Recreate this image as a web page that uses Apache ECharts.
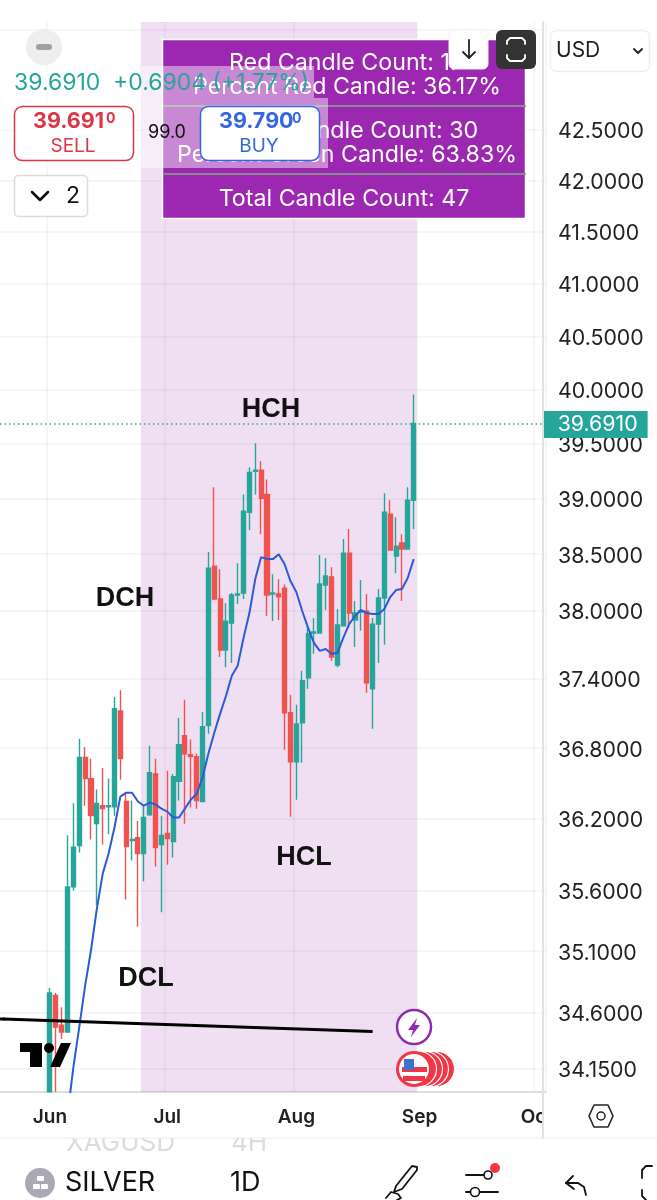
<!DOCTYPE html>
<html>
<head>
<meta charset="utf-8">
<script src="https://cdn.jsdelivr.net/npm/echarts@6/dist/echarts.min.js"></script>
<style>
    html, body { margin: 0; padding: 0; background: #fff; }
    #chart { width: 657px; height: 1200px; }
</style>
</head>
<body>
<div id="chart"></div>
<script>
    // daily silver candles
    var opens = [33.97,34.74,34.50,34.445,35.63,35.975,36.72,36.54,36.16,36.31,36.30,36.30,37.12,36.345,36.017,36.04,35.908,36.234,36.58,35.983,36.076,36.008,36.516,36.907,36.744,36.727,36.345,36.993,38.393,38.10,37.65,37.887,38.136,38.154,38.878,39.25,39.26,39.04,38.145,38.145,38.197,37.104,36.683,37.017,37.408,37.80,37.80,38.225,38.296,37.52,37.863,38.51,37.914,37.985,37.994,37.312,37.878,38.11,38.86,38.483,38.6,38.546,38.987];
    var closes = [34.76,34.485,34.445,35.63,35.96,36.72,36.54,36.226,36.33,36.285,36.31,37.14,36.71,35.967,36.025,35.908,36.21,36.59,35.958,36.06,36.034,36.555,36.83,36.752,36.727,36.353,36.984,38.375,38.10,37.65,37.905,38.136,38.145,38.887,39.241,39.26,39.005,38.136,38.154,38.119,37.104,36.683,37.008,37.382,37.793,37.81,38.234,38.305,37.59,37.87,38.51,37.976,37.976,37.994,37.365,37.878,38.11,38.878,38.537,38.573,38.546,38.987,39.691];
    var lows = [33.97,33.97,34.39,34.445,35.60,35.916,36.31,36.025,35.477,35.983,36.07,36.226,36.53,35.526,35.85,35.30,35.676,36.226,35.80,35.42,35.815,35.875,36.353,36.157,36.294,36.285,36.34,36.924,38.09,37.59,37.50,37.537,38.056,38.10,38.717,39.04,38.68,37.95,37.905,37.914,36.787,36.217,36.361,36.675,37.312,37.617,37.80,38.003,37.555,37.50,37.854,37.845,37.678,37.82,37.278,36.967,37.537,37.696,38.537,38.33,38.083,38.546,38.726];
    var highs = [34.80,34.76,34.645,36.06,36.33,36.88,36.81,36.71,36.447,36.63,36.54,37.24,37.30,36.41,36.353,36.18,36.31,36.82,36.71,36.226,36.606,36.58,37.06,37.217,36.873,36.752,37.112,38.519,39.105,38.366,38.065,38.154,38.42,39.04,39.287,39.508,39.342,39.176,38.32,38.276,38.23,37.26,37.173,37.469,37.863,37.932,38.492,38.465,38.384,38.012,38.636,38.726,38.083,38.27,38.145,37.932,38.19,39.05,38.987,38.832,38.68,39.105,39.96];
    // blue moving average
    var maValues = [null,null,null,33.79,34.165,34.485,34.82,35.108,35.45,35.74,35.908,36.126,36.387,36.42,36.42,36.345,36.31,36.336,36.32,36.285,36.26,36.21,36.21,36.285,36.36,36.41,36.546,36.752,36.93,37.095,37.25,37.425,37.512,37.757,37.976,38.278,38.474,38.456,38.456,38.50,38.41,38.26,38.163,37.994,37.845,37.713,37.643,37.66,37.617,37.625,37.757,37.878,37.95,38.003,37.976,37.967,37.967,38.012,38.118,38.18,38.19,38.29,38.456];

    var lastPrice = 39.691;
    var barCount = 93;
    var firstBar = 8;      // empty days left of the first candle
    var monthTicks = { 8: 'Jun', 28: 'Jul', 50: 'Aug', 71: 'Sep', 91: 'Oct' };
    var priceTicks = [42.5, 42, 41.5, 41, 40.5, 40, 39.5, 39, 38.5, 38, 37.4, 36.8, 36.2, 35.6, 35.1, 34.6, 34.15];
    var gridTicks = [43.5].concat(priceTicks);
    var shadedBars = [24, 70];
    var trendIdx = [0, 63];
    var trendVal = [34.55, 34.45];

    var tableLines = ['Red Candle Count: 17', 'Percent Red Candle: 36.17%', 'Green Candle Count: 30', 'Percent Green Candle: 63.83%', 'Total Candle Count: 47'];

    var TEAL = '#26A69A', RED = '#EF5350';
    var UI = 'Inter, "Noto Sans", sans-serif';

    var categories = [], candles = [], ma = [];
    for (var i = 0; i < barCount; i++) {
        categories.push(monthTicks[i] || '');
        var k = i - firstBar;
        if (k >= 0 && k < opens.length) {
            candles.push([opens[k], closes[k], lows[k], highs[k]]);
            ma.push(maValues[k]);
        } else {
            candles.push(['-', '-', '-', '-']);
            ma.push(null);
        }
    }
    var trend = [[trendIdx[0], trendVal[0]], [trendIdx[1], trendVal[1]]];

    // overlay helpers
    function txt(x, y, s, font, fill, align) {
        return { type: 'text', z: 100, style: { x: x, y: y, text: s, font: font, fill: fill, align: align || 'center', textAlign: align || 'center', verticalAlign: 'middle', textVerticalAlign: 'middle' } };
    }
    function box(x, y, w, h, fill, stroke, r, lw) {
        return { type: 'rect', z: 100, shape: { x: x, y: y, width: w, height: h, r: r || 0 }, style: { fill: fill, stroke: stroke || null, lineWidth: lw || 1 } };
    }
    function seg(x1, y1, x2, y2, color, lw) {
        return { type: 'line', z: 100, shape: { x1: x1, y1: y1, x2: x2, y2: y2 }, style: { stroke: color, lineWidth: lw, lineCap: 'round' } };
    }
    function dot(x, y, r, fill, stroke, lw) {
        return { type: 'circle', z: 100, shape: { cx: x, cy: y, r: r }, style: { fill: fill, stroke: stroke || null, lineWidth: lw || 1 } };
    }
    function pl(points, color, lw) {
        return { type: 'polyline', z: 100, shape: { points: points }, style: { fill: null, stroke: color, lineWidth: lw, lineCap: 'round', lineJoin: 'round' } };
    }
    function pg(points, fill) {
        return { type: 'polygon', z: 100, shape: { points: points }, style: { fill: fill } };
    }

    var overlay = [
        // ghost row cut off by the axis strip
        txt(66, 1143, 'XAGUSD', '26px ' + UI, '#dcdcdc', 'left'),
        txt(231, 1143, '4H', '26px ' + UI, '#dcdcdc', 'left'),
        box(0, 1127, 657, 11, '#fff'),

        // separators
        box(544, 1093, 113, 44, '#fff'),
        seg(543, 22, 543, 1138, '#e2e2e2', 2),
        seg(0, 1138, 657, 1138, '#ececec', 1),

        // stats table
        box(162.5, 39.5, 363, 179, '#9C27B0', '#fff', 0, 1.5),
        seg(164, 106, 525, 106, '#8a8a92', 2),
        seg(164, 174, 525, 174, '#8a8a92', 2),
        txt(346, 63, tableLines[0], '23.2px ' + UI, '#fff'),
        txt(347, 87, tableLines[1], '23.2px ' + UI, '#fff'),
        txt(346, 131, tableLines[2], '23.2px ' + UI, '#fff'),
        txt(347, 155, tableLines[3], '23.2px ' + UI, '#fff'),
        txt(344, 199, tableLines[4], '23.2px ' + UI, '#fff'),

        // washed out strip behind the order buttons
        box(0, 66, 314, 32, 'rgba(255,255,255,0.45)'),
        box(0, 98, 328, 70, 'rgba(255,255,255,0.45)'),

        // top left widgets
        dot(44, 47, 18, '#eeeeee'),
        box(36, 44, 16, 6, '#a0a0a0', null, 3),
        txt(14, 83, '39.6910', '23px ' + UI, TEAL, 'left'),
        txt(113, 83, '+0.6904 (+1.77%)', '23px ' + UI, TEAL, 'left'),
        box(14.5, 106.5, 119, 54, '#fff', '#DC3545', 8, 1.5),
        txt(33, 122, '39.691', 'bold 21.5px ' + UI, '#DC3545', 'left'),
        txt(106, 119, '0', 'bold 14px ' + UI, '#DC3545', 'left'),
        txt(73, 146, 'SELL', '19px ' + UI, '#DC3545'),
        txt(167, 133, '99.0', '18px ' + UI, '#111'),
        box(200.5, 106.5, 119, 54, '#fff', '#3366E0', 8, 1.5),
        txt(219, 122, '39.790', 'bold 21.5px ' + UI, '#3366E0', 'left'),
        txt(292, 119, '0', 'bold 14px ' + UI, '#3366E0', 'left'),
        txt(259, 146, 'BUY', '19px ' + UI, '#3366E0'),
        box(14.5, 175.5, 73, 41, '#fff', '#dcdcdc', 4, 1.5),
        pl([[32, 192], [40, 200], [48, 192]], '#111', 2.5),
        txt(73, 196, '2', '23px ' + UI, '#111'),

        // top right widgets
        box(449, 30, 39, 39, '#fff', '#f0f0f0', 5, 1),
        pl([[469, 40], [469, 58]], '#222', 1.8),
        pl([[463, 52], [469, 58], [475, 52]], '#222', 1.8),
        box(496, 30, 40, 39, '#333', null, 6),
        pl([[507, 44], [507, 41], [510, 38], [522, 38], [525, 41], [525, 44]], '#fff', 1.8),
        pl([[507, 55], [507, 58], [510, 61], [522, 61], [525, 58], [525, 55]], '#fff', 1.8),
        box(550.5, 30.5, 99, 41, '#fff', '#f0f0f0', 6, 1.5),
        txt(556, 51, 'USD', '21px ' + UI, '#222', 'left'),
        pl([[634, 49], [638, 53], [642, 49]], '#222', 1.8),

        // drawn labels on the chart
        txt(271, 410, 'HCH', 'bold 27px "Liberation Sans"', '#111'),
        txt(125, 599, 'DCH', 'bold 27px "Liberation Sans"', '#111'),
        txt(304, 858, 'HCL', 'bold 27px "Liberation Sans"', '#111'),
        txt(146, 979, 'DCL', 'bold 27px "Liberation Sans"', '#111'),

        // the trend line runs off the left edge
        seg(0, 1019, 4, 1019, '#000', 3),

        // tv logo
        pg([[20, 1043], [42, 1043], [42, 1067], [30, 1067], [30, 1052], [20, 1052]], '#000'),
        dot(49, 1048, 5, '#000'),
        pg([[61, 1043], [71, 1043], [60, 1067], [50, 1067]], '#000'),

        // events
        dot(414, 1027, 17, '#fff', '#8E2CB0', 2.5),
        pg([[417, 1018], [408, 1030], [413, 1030], [411, 1037], [420, 1025], [415, 1025]], '#8E2CB0'),
        dot(437, 1069, 17.5, '#F23645', '#fff', 1.2),
        dot(431, 1069, 17.5, '#F23645', '#fff', 1.2),
        dot(425, 1069, 17.5, '#F23645', '#fff', 1.2),
        dot(419, 1069, 17.5, '#F23645', '#fff', 1.2),
        dot(414, 1069, 18, '#F23645'),
        dot(414, 1069, 15, '#fff'),
        box(402, 1067, 25, 5, '#F23645'),
        box(403, 1076, 22, 5, '#F23645'),
        box(404, 1059, 10, 11, '#3F72C8'),

        // bottom strip
        pl([[589, 1116], [594, 1105], [608, 1105], [613, 1116], [608, 1127], [594, 1127], [589, 1116]], '#222', 1.6),
        dot(601, 1116, 4, 'none', '#222', 1.5),
        dot(40, 1183, 15, '#a9a9b5'),
        box(37, 1176, 7, 5, '#fff', null, 1),
        box(33, 1184, 7, 5, '#fff', null, 1),
        box(41, 1184, 7, 5, '#fff', null, 1),
        txt(65, 1183, 'SILVER', '27px ' + UI, '#111', 'left'),
        txt(230, 1183, '1D', '27px ' + UI, '#111', 'left'),
        pl([[396, 1186], [412, 1166], [417, 1167], [417, 1170], [402, 1189], [394, 1192], [396, 1186]], '#111', 1.8),
        pl([[386, 1198], [391, 1192], [398, 1194], [401, 1198], [397, 1200]], '#111', 1.8),
        seg(466, 1175, 484, 1175, '#111', 1.8),
        dot(488, 1175, 4, 'none', '#111', 1.6),
        dot(495, 1168, 5, '#F23645'),
        seg(466, 1192, 470, 1192, '#111', 1.8),
        dot(475, 1192, 4.5, 'none', '#111', 1.6),
        seg(480, 1192, 498, 1192, '#111', 1.8),
        pl([[573, 1176], [566, 1183], [574, 1189]], '#111', 1.8),
        pl([[566, 1183], [578, 1183], [584, 1187], [586, 1195]], '#111', 1.8),
        pl([[652, 1166], [646, 1166], [642, 1170], [642, 1178]], '#111', 1.8),
        pl([[642, 1190], [642, 1196], [646, 1200]], '#111', 1.8)
    ];

    var myChart = echarts.init(document.getElementById('chart'), null, { renderer: 'canvas' });
    var option = {
        animation: false,
        backgroundColor: '#fff',
        grid: { left: -1, top: 22, width: 546.7, height: 1070, containLabel: false },
        xAxis: {
            type: 'category',
            data: categories,
            boundaryGap: true,
            axisLine: { show: true, lineStyle: { color: '#dedede', width: 2 } },
            axisTick: { show: false, alignWithLabel: true },
            axisLabel: { interval: 0, margin: 16, color: '#222', fontFamily: 'Inter', fontWeight: 600, fontSize: 19, hideOverlap: false },
            splitLine: {
                show: true,
                interval: function (idx, val) { return val !== ''; },
                lineStyle: { color: 'rgba(0,0,0,0.05)', width: 1.5 }
            }
        },
        yAxis: {
            type: 'log',
            logBase: 10,
            position: 'right',
            offset: -2.7,
            min: 33.968,
            max: 43.58,
            axisLine: { show: false },
            axisTick: { show: false, customValues: gridTicks },
            axisLabel: {
                customValues: priceTicks,
                margin: 15,
                align: 'left',
                verticalAlign: 'top',
                lineHeight: 4,
                color: '#222',
                fontFamily: 'Inter',
                fontSize: 21.3,
                formatter: function (v) { return Number(v).toFixed(4); }
            },
            splitLine: { show: true, lineStyle: { color: 'rgba(0,0,0,0.05)', width: 1.5 } }
        },
        series: [
            {
                type: 'custom',
                z: 1,
                silent: true,
                clip: false,
                data: [shadedBars],
                encode: { x: [0, 1] },
                renderItem: function (params, api) {
                    var band = api.size([1, 0])[0];
                    var a = api.coord([api.value(0), lastPrice]);
                    var b = api.coord([api.value(1), lastPrice]);
                    return {
                        type: 'rect',
                        shape: { x: a[0] - band / 2, y: params.coordSys.y, width: b[0] - a[0] + band, height: params.coordSys.height },
                        style: { fill: 'rgba(156,39,176,0.15)' }
                    };
                }
            },
            {
                type: 'candlestick',
                z: 3,
                data: candles,
                barWidth: 4.6,
                itemStyle: { color: TEAL, color0: RED, borderColor: TEAL, borderColor0: RED, borderWidth: 1.4 },
                markLine: {
                    silent: true,
                    symbol: 'none',
                    animation: false,
                    lineStyle: { color: TEAL, type: [1.5, 3], width: 1.5 },
                    label: {
                        position: 'end',
                        distance: 0,
                        offset: [-2, 1],
                        formatter: '39.6910',
                        color: '#fff',
                        fontFamily: 'Inter',
                        fontSize: 21.3,
                        backgroundColor: TEAL,
                        padding: [4, 10, 2, 14]
                    },
                    data: [{ yAxis: lastPrice }]
                }
            },
            {
                type: 'line',
                z: 4,
                data: ma,
                symbol: 'none',
                smooth: false,
                connectNulls: false,
                lineStyle: { color: '#2A5BD7', width: 2 }
            },
            {
                type: 'line',
                z: 5,
                data: trend,
                symbol: 'none',
                lineStyle: { color: '#000', width: 3 }
            }
        ],
        graphic: { elements: overlay }
    };
    myChart.setOption(option);
</script>
</body>
</html>
